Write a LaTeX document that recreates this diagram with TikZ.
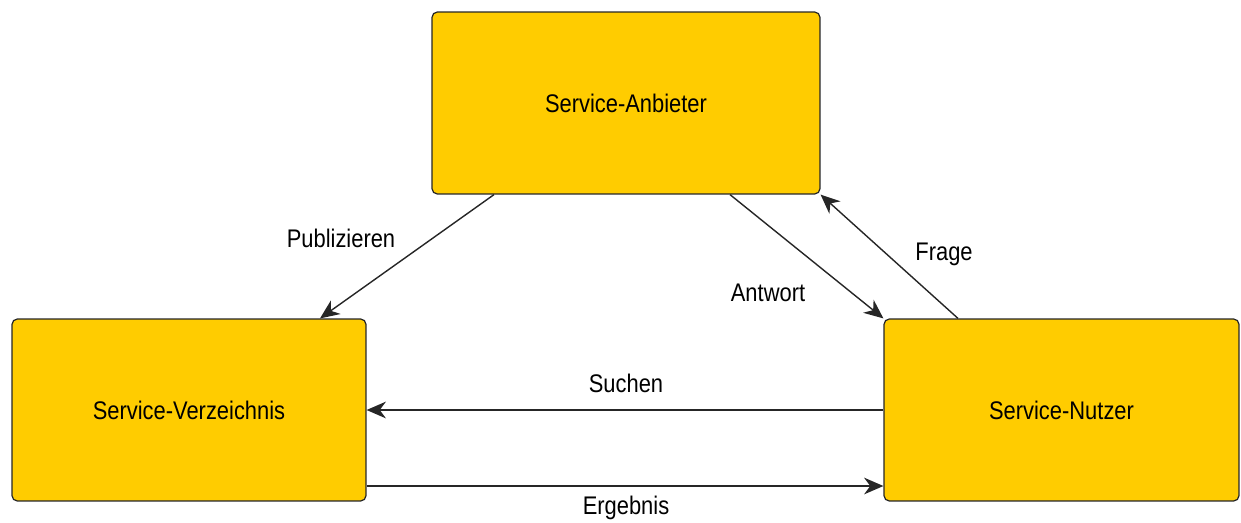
\documentclass[tikz,border=0pt]{standalone}
\usepackage{fontspec}
\setmainfont[FakeStretch=0.86]{Liberation Sans}
\usetikzlibrary{positioning}
\usetikzlibrary{calc}
\usetikzlibrary{arrows.meta}
\definecolor{boxyellow}{HTML}{FFCC00}

\begin{document}
\begin{tikzpicture}[x=0.02cm, y=-0.02cm]
				\tikzstyle{servicenode}=[draw=black!85, line width=0.7pt, rounded corners=3pt, fill=boxyellow, text=black, minimum height=3.64cm, font=\fontsize{14.5}{16}\selectfont]
				\tikzstyle{flow}=[-{Stealth[length=11pt, width=9.5pt, inset=3.5pt]}, line width=0.8pt, black!85]
				\tikzstyle{flowlabel}=[text=black, font=\fontsize{14.5}{16}\selectfont]
				
				\useasboundingbox (0,0) rectangle (1241,522);
				
				\node (anb) at (626,103) [servicenode, minimum width=7.76cm] {Service-Anbieter};
				\node (ver) at (189,410) [servicenode, minimum width=7.08cm] {Service-Verzeichnis};
				\node (nut) at (1061.5,410) [servicenode, minimum width=7.1cm] {Service-Nutzer};
				
				\draw [flow] ($(anb.south)+(-132,0)$) -- ($(ver.north)+(131,0)$);
				\draw [flow] ($(anb.south)+(104,0)$) -- (nut.north west);
				\draw [flow] ($(nut.north)+(-103.5,0)$) -- (anb.south east);
				\draw [flow] (nut.west) -- (ver.east);
				\coordinate (erg) at ($(ver.east)+(0,76)$);
				\draw [flow] (erg) -- (erg -| nut.west);
				
				\node (lpub) at (341,238) [flowlabel] {Publizieren};
				\node (lant) at (768,293) [flowlabel] {Antwort};
				\node (lfra) at (944,254) [flowlabel] {Frage};
				\node (lsuc) at (626,383) [flowlabel] {Suchen};
				\node (lerg) at (626,508) [flowlabel] {Ergebnis};
\end{tikzpicture}
\end{document}
